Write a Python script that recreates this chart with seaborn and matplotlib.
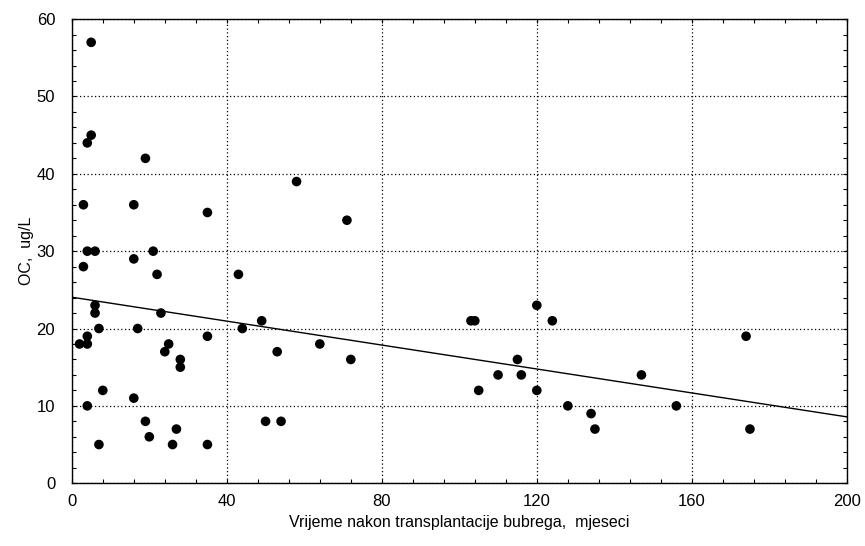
import numpy as np
import pandas as pd
import matplotlib
matplotlib.use("Agg")
import matplotlib.pyplot as plt
import seaborn as sns
from matplotlib.ticker import MultipleLocator

# vrijeme nakon transplantacije (mjeseci) i OC (ug/L), ocitano sa slike
months = [5, 5, 4, 19, 3, 16, 35, 4, 6, 16, 21, 3, 22, 43, 6, 6, 23, 49, 7, 17,
          44, 4, 35, 2, 4, 25, 24, 53, 28, 28, 8, 16, 4, 19, 50, 54, 27, 20, 7, 26,
          35, 58, 71, 120, 103, 104, 124, 64, 72, 115, 110, 116, 105, 120, 128,
          174, 147, 134, 135, 156, 175]
oc = [57, 45, 44, 42, 36, 36, 35, 30, 30, 29, 30, 28, 27, 27, 23, 22, 22, 21, 20, 20,
      20, 19, 19, 18, 18, 18, 17, 17, 16, 15, 12, 11, 10, 8, 8, 8, 7, 6, 5, 5,
      5, 39, 34, 23, 21, 21, 21, 18, 16, 16, 14, 14, 12, 12, 10,
      19, 14, 9, 7, 10, 7]

x_ticks = [0, 40, 80, 120, 160, 200]
y_ticks = [0, 10, 20, 30, 40, 50, 60]

df = pd.DataFrame({"mjeseci": months, "OC": oc})

sns.set_style("ticks", {"text.color": "black", "axes.labelcolor": "black",
                        "xtick.color": "black", "ytick.color": "black"})
plt.rcParams["font.family"] = ["Liberation Sans", "DejaVu Sans"]

fig, ax = plt.subplots(figsize=(8.65, 5.46), dpi=100)
fig.subplots_adjust(left=0.083, right=0.979, top=0.965, bottom=0.115)

# granice prije regplot-a, da linija ide preko cijele osi
ax.set_xlim(0, 200)
ax.set_ylim(0, 60)

sns.regplot(data=df, x="mjeseci", y="OC", ci=None, scatter=False, truncate=False,
            color="black", line_kws={"linewidth": 1.0}, ax=ax)
sns.scatterplot(data=df, x="mjeseci", y="OC", color="black", s=48,
                edgecolor="none", ax=ax, zorder=3)

ax.set_xlim(0, 200)
ax.set_ylim(0, 60)
ax.set_xticks(x_ticks)
ax.set_yticks(y_ticks)
ax.xaxis.set_minor_locator(MultipleLocator(8))
ax.yaxis.set_minor_locator(MultipleLocator(2))
ax.tick_params(which="both", direction="in", top=True, right=True,
               length=3, width=0.8, labelsize=12, color="black", labelcolor="black")
ax.tick_params(axis="x", pad=8)
ax.tick_params(axis="y", pad=12)
ax.grid(True, which="major", color="black", linestyle=(0, (1, 2)), linewidth=0.9)

for sp in ax.spines.values():
    sp.set_linewidth(1.0)
    sp.set_color("black")

ax.set_xlabel("Vrijeme nakon transplantacije bubrega,  mjeseci", fontsize=11.5,
              labelpad=4, color="black")
ax.set_ylabel("OC,  ug/L", fontsize=11.5, labelpad=2, color="black")

fig.savefig("out.png", dpi=100)
